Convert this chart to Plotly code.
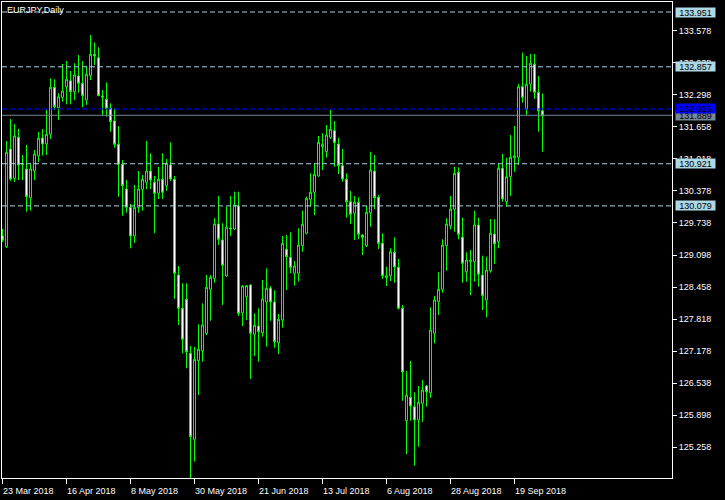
import plotly.graph_objects as go

# ---- data (EURJPY daily) ----
open_ = [129.478,129.264,131.215,130.630,131.449,130.930,130.815,130.243,130.781,131.081,
         131.435,131.315,131.509,132.447,132.040,132.248,132.459,132.579,132.360,132.673,
         132.527,132.194,132.679,133.106,133.038,132.273,132.208,132.028,131.774,131.309,
         130.910,130.416,130.051,129.478,130.051,130.410,130.550,130.775,130.550,130.330,
         130.610,130.482,130.896,130.610,128.699,128.034,128.214,127.135,125.417,126.987,
         127.187,127.534,128.413,128.633,129.718,129.398,128.679,129.638,129.618,130.077,
         127.946,128.265,128.499,127.514,127.680,127.546,128.160,128.433,128.160,127.347,
         127.800,129.212,129.052,128.733,128.733,129.284,129.532,130.211,130.350,130.676,
         131.261,131.161,131.449,131.581,131.315,130.882,130.610,130.163,129.931,130.151,
         129.498,129.284,129.943,130.775,130.251,129.332,128.645,128.685,129.152,128.853,
         128.034,125.789,126.256,126.068,125.803,126.136,126.482,126.348,127.534,128.165,
         128.413,129.284,129.678,130.011,130.749,129.452,128.765,128.964,128.964,129.698,
         128.699,128.199,128.785,129.518,129.364,130.830,130.163,130.662,131.041,131.050,
         132.459,132.012,132.513,132.907,132.347,131.978]
high = [129.617,131.375,131.814,131.714,131.615,131.095,131.295,130.930,131.195,131.555,
        131.615,131.994,132.627,132.607,132.328,132.913,132.973,132.773,132.927,133.093,
        132.973,132.873,133.492,133.346,133.246,132.393,132.547,132.128,132.028,131.674,
        130.995,130.596,130.117,130.496,130.775,130.695,131.375,131.129,130.676,130.861,
        131.129,131.015,131.349,130.676,128.879,128.533,128.533,127.281,127.267,127.714,
        128.133,128.699,128.699,129.832,130.277,129.732,130.063,130.277,130.363,130.363,
        128.499,128.499,128.513,127.934,128.034,128.599,128.833,128.479,128.393,127.920,
        129.478,129.498,129.552,128.979,129.632,129.983,130.263,130.730,130.930,131.475,
        131.529,131.694,131.994,131.774,131.441,131.215,130.730,130.377,130.277,130.251,
        129.512,130.077,131.161,131.095,130.297,129.532,128.865,129.232,129.452,129.019,
        128.100,126.781,126.981,126.356,126.482,126.602,126.502,128.053,128.279,128.753,
        129.412,129.832,130.277,130.861,130.849,129.844,129.152,129.198,129.983,129.844,
        129.085,129.065,129.818,129.812,130.930,131.115,131.041,131.495,131.674,132.513,
        133.139,133.073,133.113,133.113,132.673,132.324]
low = [129.358,129.238,130.582,130.556,130.596,130.596,129.963,129.983,130.596,130.955,
       131.085,131.095,131.415,131.994,131.794,132.160,132.108,132.108,132.194,132.340,
       132.048,132.094,132.593,132.893,132.273,131.880,131.860,131.561,131.241,130.263,
       129.883,129.943,129.232,129.338,129.943,129.983,130.410,130.416,129.532,130.217,
       130.217,130.382,130.576,128.220,127.700,127.135,126.835,124.644,124.970,126.302,
       126.967,127.500,127.786,128.545,129.298,128.100,128.665,129.478,129.598,127.880,
       127.680,127.800,126.622,127.081,126.967,127.466,127.267,127.786,127.247,127.121,
       127.646,128.399,128.733,128.485,128.565,129.164,129.508,130.063,129.897,130.662,
       130.795,131.041,131.415,130.862,130.716,130.562,129.844,129.718,129.398,129.412,
       129.098,129.258,129.664,130.017,129.218,128.619,128.479,128.579,128.545,128.010,
       126.188,125.124,125.788,124.890,125.268,125.769,126.068,126.248,127.334,127.900,
       128.345,128.784,129.611,129.565,129.412,128.545,128.565,128.299,128.565,128.465,
       128.000,127.854,128.745,128.919,129.232,130.163,130.063,130.277,130.761,130.896,
       132.140,131.894,132.360,132.214,131.561,131.161]
close = [129.398,131.149,130.616,131.475,130.896,130.910,130.263,130.815,131.115,131.429,
         131.315,131.509,132.447,132.060,132.260,132.374,132.607,132.360,132.693,132.527,
         132.280,132.707,133.106,133.072,132.280,132.254,132.028,131.761,131.309,130.910,
         130.482,130.051,129.478,130.051,130.416,130.610,130.775,130.596,130.330,130.610,
         130.350,130.930,130.616,128.733,128.034,127.414,127.166,125.469,127.015,127.215,
         127.700,128.453,128.653,129.718,129.412,128.892,129.652,129.618,130.097,127.934,
         128.479,128.485,127.534,127.694,127.566,128.220,128.433,128.160,127.367,127.814,
         129.332,129.064,128.853,128.879,129.298,129.712,130.231,130.350,130.710,131.349,
         131.309,131.495,131.609,131.341,130.882,130.616,130.163,129.911,130.151,129.512,
         129.452,129.951,130.795,130.243,129.332,128.685,128.685,129.164,128.858,128.034,
         126.762,126.302,126.082,125.803,126.156,126.402,126.368,127.600,128.199,128.413,
         129.298,129.718,130.017,130.729,129.512,128.932,128.998,128.992,129.698,128.713,
         128.285,128.799,129.532,129.318,130.830,130.217,130.662,131.050,131.075,132.459,
         132.248,132.507,132.927,132.347,131.978,131.889]

date_ticks = [0, 16, 32, 48, 64, 80, 96, 112, 128]
date_labels = ["23 Mar 2018", "16 Apr 2018", "8 May 2018", "30 May 2018", "21 Jun 2018",
               "13 Jul 2018", "6 Aug 2018", "28 Aug 2018", "19 Sep 2018"]
price_ticks = [133.578, 132.938, 132.298, 131.658, 131.018, 130.378, 129.738, 129.098,
               128.458, 127.818, 127.178, 126.538, 125.898, 125.258]
level_lines = [133.951, 132.857, 130.921, 130.079]
ask_price = 132.015
bid_price = 131.889
title_text = "EURJPY,Daily"

FONT = "Liberation Sans"
GREEN = "#00FF00"
LB = "#ADD8E6"

x = list(range(len(open_)))

fig = go.Figure(go.Candlestick(
    x=x, open=open_, high=high, low=low, close=close,
    increasing=dict(line=dict(color=GREEN, width=1), fillcolor="black"),
    decreasing=dict(line=dict(color=GREEN, width=1), fillcolor="white"),
    whiskerwidth=0, hoverinfo="skip", showlegend=False,
))

shapes = []
for v in level_lines:
    shapes.append(dict(type="line", xref="paper", x0=0, x1=1, yref="y", y0=v, y1=v,
                       line=dict(color=LB, width=1, dash="5px,3px"), layer="above"))
shapes.append(dict(type="line", xref="paper", x0=0, x1=1, yref="y", y0=ask_price, y1=ask_price,
                   line=dict(color="#0000FF", width=1, dash="5px,3px"), layer="above"))
shapes.append(dict(type="line", xref="paper", x0=0, x1=1, yref="y", y0=bid_price, y1=bid_price,
                   line=dict(color="#778899", width=1), layer="above"))

ann = []
for v in level_lines:
    ann.append(dict(xref="paper", x=1, xanchor="left", xshift=3, yref="y", y=v, yanchor="middle",
                    text=f"{v:.3f}", showarrow=False, bgcolor=LB, borderpad=0, width=39, height=9,
                    font=dict(family=FONT, size=9, color="black")))
ann.append(dict(xref="paper", x=1, xanchor="left", xshift=3, yref="y", y=bid_price, yanchor="middle",
                text=f"{bid_price:.3f}", showarrow=False, bgcolor="#778899", borderpad=0, width=39, height=9,
                font=dict(family=FONT, size=9, color="black")))
ann.append(dict(xref="paper", x=1, xanchor="left", xshift=3, yref="y", y=ask_price, yanchor="middle",
                text=f"{ask_price:.3f}", showarrow=False, bgcolor="#0000FF", borderpad=0, width=39, height=9,
                font=dict(family=FONT, size=9, color="black")))
for k, lab in zip(date_ticks, date_labels):
    ann.append(dict(xref="x", x=k, xanchor="left", xshift=-2, yref="paper", y=0, yanchor="middle",
                    yshift=-13, text=lab, showarrow=False,
                    font=dict(family=FONT, size=9, color="white")))
ann.append(dict(xref="paper", x=0, xanchor="left", xshift=3, yref="paper", y=1, yanchor="top",
                yshift=-1, text=title_text, showarrow=False,
                font=dict(family=FONT, size=9, color="white")))

fig.update_layout(
    width=725, height=500,
    paper_bgcolor="black", plot_bgcolor="black",
    margin=dict(l=2, r=53, t=2, b=22, pad=0),
    boxgap=0.5, boxgroupgap=0,
    shapes=shapes, annotations=ann,
    xaxis=dict(range=[-0.125, 167.375], showgrid=False, zeroline=False, showline=True,
               linecolor="white", linewidth=1, mirror=True, ticks="outside", ticklen=5,
               tickcolor="white", tickvals=date_ticks, showticklabels=False,
               rangeslider=dict(visible=False), fixedrange=True),
    yaxis=dict(range=[124.645, 134.151], side="right", showgrid=False, zeroline=False,
               showline=True, linecolor="white", linewidth=1, mirror=True, ticks="outside",
               ticklen=4, tickcolor="white", tickvals=price_ticks,
               ticktext=[f"{v:.3f}" for v in price_ticks],
               tickfont=dict(family=FONT, size=9, color="white"), fixedrange=True),
    font=dict(family=FONT, size=9, color="white"),
)

fig.write_html("out.html", config={"displayModeBar": False, "staticPlot": True},
               post_script="document.body.style.margin='0';document.body.style.overflow='hidden';")
